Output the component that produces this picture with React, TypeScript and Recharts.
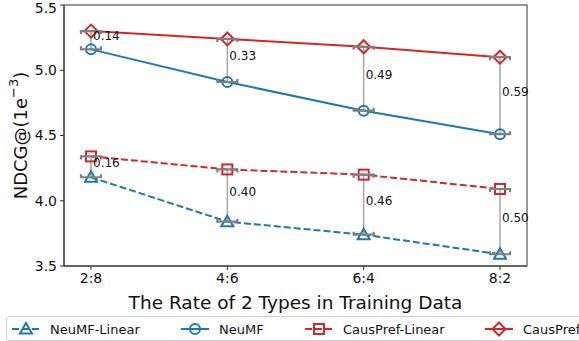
import React from "react";
import * as R from "recharts";
import {
  LineChart,
  Line,
  XAxis,
  YAxis,
  ErrorBar,
  LabelList,
} from "recharts";

const rates = ["2:8", "4:6", "6:4", "8:2"];
const neumfLinear = [4.18, 3.84, 3.74, 3.59];
const neumf = [5.16, 4.91, 4.69, 4.51];
const causprefLinear = [4.34, 4.24, 4.2, 4.09];
const causpref = [5.3, 5.24, 5.18, 5.1];
const yTicks = [3.5, 4.0, 4.5, 5.0, 5.5];

const BLUE = "#1f77b4";
const RED = "#d62728";
const CAP = "#808080";
const FONT = "DejaVu Sans, sans-serif";

const data = rates.map((rate, i) => {
  const gapTop = causpref[i] - neumf[i];
  const gapBot = causprefLinear[i] - neumfLinear[i];
  return {
    rate,
    neumfLinear: neumfLinear[i],
    neumf: neumf[i],
    causprefLinear: causprefLinear[i],
    causpref: causpref[i],
    errTop: [0, gapTop],
    errBot: [0, gapBot],
    midTop: (causpref[i] + neumf[i]) / 2,
    midBot: (causprefLinear[i] + neumfLinear[i]) / 2,
    lblTop: gapTop.toFixed(2),
    lblBot: gapBot.toFixed(2),
  };
});

type Shape = "triangle" | "circle" | "square" | "diamond";

function marker(shape: Shape, color: string, cx: number, cy: number, key?: any) {
  const s = { fill: "none", stroke: color, strokeWidth: 2 };
  if (shape === "circle") return <circle key={key} cx={cx} cy={cy} r={5} {...s} />;
  if (shape === "square")
    return <rect key={key} x={cx - 5} y={cy - 5} width={10} height={10} {...s} />;
  if (shape === "diamond")
    return (
      <path key={key} d={`M${cx},${cy - 6.5}L${cx + 6.5},${cy}L${cx},${cy + 6.5}L${cx - 6.5},${cy}Z`} {...s} />
    );
  return (
    <path key={key} d={`M${cx},${cy - 6}L${cx + 6},${cy + 4.5}L${cx - 6},${cy + 4.5}Z`} {...s} />
  );
}

const dotFor = (shape: Shape, color: string) => (p: any) =>
  marker(shape, color, p.cx, p.cy, p.key ?? `${shape}-${p.index}`);

// cap of the gap bar; dir = +1 ticks point down (top cap), -1 ticks point up (bottom cap)
const capFor = (dir: number) => (p: any) => {
  const { cx, cy } = p;
  return (
    <path
      key={p.key ?? `cap-${dir}-${p.index}`}
      d={`M${cx - 10},${cy + 3 * dir}L${cx - 10},${cy}L${cx + 10},${cy}L${cx + 10},${cy + 3 * dir}`}
      fill="none"
      stroke={CAP}
      strokeWidth={2.2}
    />
  );
};

const series = [
  { key: "neumfLinear", name: "NeuMF-Linear", color: BLUE, shape: "triangle" as Shape, dash: "7 3" },
  { key: "neumf", name: "NeuMF", color: BLUE, shape: "circle" as Shape, dash: undefined },
  { key: "causprefLinear", name: "CausPref-Linear", color: RED, shape: "square" as Shape, dash: "7 3" },
  { key: "causpref", name: "CausPref", color: RED, shape: "diamond" as Shape, dash: undefined },
];

const gapLabel = (p: any) => (
  <text
    key={`gl-${p.index}-${p.y}`}
    x={p.x + 2}
    y={p.y}
    fontSize={12}
    fontFamily={FONT}
    fill="#111"
  >
    {p.value}
  </text>
);

// box round the plot area, taken from the chart's own layout
function Frame() {
  const area = (R as any).usePlotArea ? (R as any).usePlotArea() : null;
  if (!area) return null;
  return (
    <rect x={area.x} y={area.y} width={area.width} height={area.height} fill="none" stroke="#333" strokeWidth={1} />
  );
}

// legend item starting x positions
const legendX = [5, 174, 298, 478];

function Legend() {
  return (
    <div
      style={{
        position: "absolute",
        left: 6,
        top: 316,
        width: 600,
        height: 25,
        border: "1px solid #cfcfcf",
        borderRadius: 3,
        background: "white",
        fontFamily: FONT,
        fontSize: 13,
        color: "#111",
        boxSizing: "border-box",
      }}
    >
      {series.map((s, i) => (
        <div
          key={s.key}
          style={{ position: "absolute", left: legendX[i], top: 4, display: "flex", alignItems: "center" }}
        >
          <svg width={28} height={16} style={{ marginRight: 10 }}>
            <line x1={0} y1={8} x2={28} y2={8} stroke={s.color} strokeWidth={2} strokeDasharray={s.dash ? "7 3" : undefined} />
            {marker(s.shape, s.color, 14, 8)}
          </svg>
          <span style={{ whiteSpace: "nowrap" }}>{s.name}</span>
        </div>
      ))}
    </div>
  );
}

const yLabel = (props: any) => {
  const vb = props.viewBox;
  const cx = 20;
  const cy = vb.y + vb.height / 2;
  return (
    <text
      x={cx}
      y={cy}
      transform={`rotate(-90 ${cx} ${cy})`}
      textAnchor="middle"
      dominantBaseline="central"
      fontSize={18}
      fontFamily={FONT}
      fill="#111"
    >
      NDCG@(1e
      <tspan fontSize={13} dy={-7}>
        −3
      </tspan>
      <tspan dy={7}>)</tspan>
    </text>
  );
};

const hidden = { stroke: "none", activeDot: false, isAnimationActive: false, legendType: "none" as const };

export default function App() {
  return (
    <div style={{ position: "fixed", left: 0, top: 0, width: 579, height: 341, background: "white", overflow: "hidden" }}>
      <LineChart width={579} height={341} data={data} margin={{ top: 5, right: 52, bottom: 0, left: 0 }}>
        <XAxis
          dataKey="rate"
          padding={{ left: 27, right: 27 }}
          tickSize={4}
          tickMargin={3}
          height={75}
          stroke="#333"
          tick={{ fill: "#111", fontSize: 14, fontFamily: FONT }}
          label={{ value: "The Rate of 2 Types in Training Data", position: "insideBottom", offset: 32, fontSize: 18.5, fontFamily: FONT, fill: "#111" }}
        />
        <YAxis
          domain={[3.5, 5.5]}
          ticks={yTicks}
          tickFormatter={(v) => v.toFixed(1)}
          width={64}
          tickSize={4}
          tickMargin={3}
          stroke="#333"
          tick={{ fill: "#111", fontSize: 14, fontFamily: FONT }}
          label={yLabel}
        />
        <Frame />
        <Line dataKey="neumf" {...hidden} dot={false}>
          <ErrorBar dataKey="errTop" direction="y" width={0} stroke="#aaaaaa" strokeWidth={1.6} isAnimationActive={false} />
        </Line>
        <Line dataKey="neumfLinear" {...hidden} dot={false}>
          <ErrorBar dataKey="errBot" direction="y" width={0} stroke="#aaaaaa" strokeWidth={1.6} isAnimationActive={false} />
        </Line>
        {series.map((s) => (
          <Line
            key={s.key}
            dataKey={s.key}
            stroke={s.color}
            strokeWidth={2}
            strokeDasharray={s.dash}
            dot={dotFor(s.shape, s.color)}
            activeDot={false}
            isAnimationActive={false}
          />
        ))}
        <Line dataKey="neumf" {...hidden} dot={capFor(-1)} />
        <Line dataKey="causpref" {...hidden} dot={capFor(1)} />
        <Line dataKey="neumfLinear" {...hidden} dot={capFor(-1)} />
        <Line dataKey="causprefLinear" {...hidden} dot={capFor(1)} />
        <Line dataKey="midTop" {...hidden} dot={false}>
          <LabelList dataKey="lblTop" content={gapLabel} />
        </Line>
        <Line dataKey="midBot" {...hidden} dot={false}>
          <LabelList dataKey="lblBot" content={gapLabel} />
        </Line>
      </LineChart>
      <Legend />
    </div>
  );
}
